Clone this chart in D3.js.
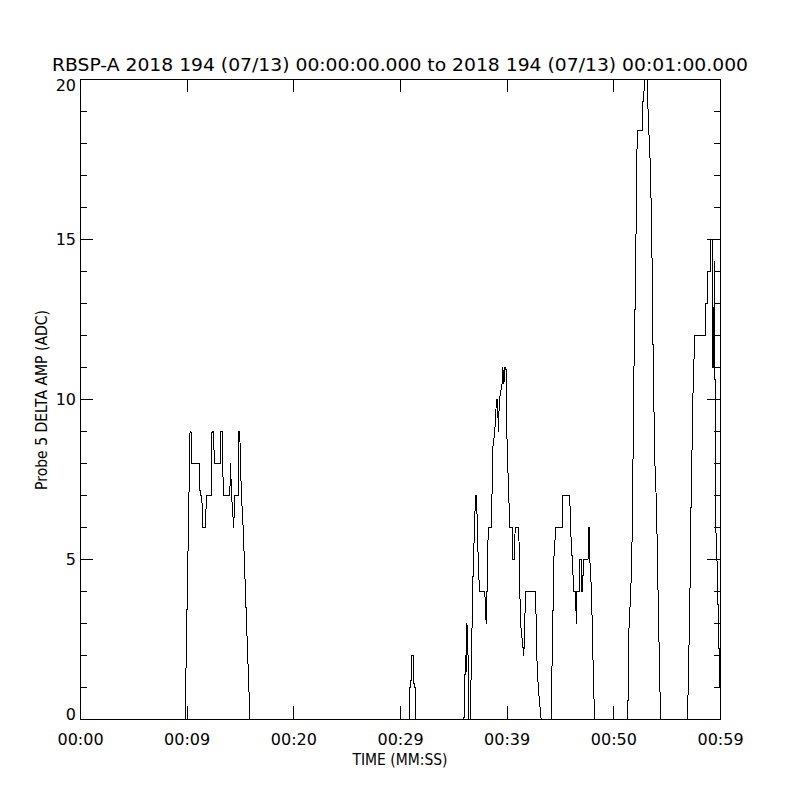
<!DOCTYPE html>
<html>
<head>
<meta charset="utf-8">
<script src="https://cdn.jsdelivr.net/npm/d3@7"></script>
<style>
  body { margin: 0; background: #fff; }
  svg { display: block; }
  text { font-family: "DejaVu Sans", sans-serif; fill: #000; }
</style>
</head>
<body>
<svg id="chart" width="800" height="800"></svg>
<script>
// seconds after 2018-194 00:00:00
const timeSec = [
    0,
    9.81, 10.27, 10.36, 10.43, 11.18, 11.21, 11.37, 11.47, 11.75, 11.78, 12.26, 12.33, 12.50, 12.53, 13.13, 13.15,
    13.28, 13.31, 13.43, 14.00, 14.06, 14.16, 14.37, 14.44, 14.78, 14.84, 14.93, 15.00, 15.09, 15.25, 15.89,
    30.83, 30.87, 30.98, 31.01, 31.24, 31.27, 31.39, 31.42,
    35.95, 36.09, 36.16, 36.23, 36.33, 36.42, 36.54, 36.80, 36.89, 37.03, 37.15, 37.19, 37.34, 37.41, 37.90, 37.97,
    38.03, 38.06, 38.13, 38.18, 38.28, 38.53, 38.65, 38.84, 39.00, 39.12, 39.16, 39.28, 39.53, 39.59, 39.70, 39.78,
    39.89, 39.92, 40.00, 40.15, 40.25, 40.47, 40.53, 40.72, 40.74, 41.09, 41.16, 41.25, 41.41, 41.56, 41.65, 41.72,
    42.66, 42.82, 42.97, 43.19,
    44.11, 44.28, 44.37, 44.56, 45.16, 45.19, 45.87, 45.94, 46.10, 46.25, 46.43, 46.47, 46.53, 46.77, 46.81, 46.94,
    47.00, 47.09, 47.13, 47.58, 47.63, 47.69, 47.75, 47.91, 48.00, 48.19,
    51.31, 51.40, 51.59, 51.70, 51.80, 51.89, 52.05, 52.14, 52.25, 52.66, 52.71, 52.81, 52.85, 53.16, 53.18, 53.28,
    53.44, 53.60, 53.69, 53.84, 54.00, 54.16, 54.38,
    56.91, 57.12, 57.25, 57.35, 57.44, 57.59, 58.57, 58.58, 58.78, 58.80, 59.09, 59.11, 59.25, 59.28, 59.37, 59.41,
    59.44, 59.48, 59.56, 59.67, 59.74, 59.84, 59.95, 60.00
]
// probe 5 delta amp (ADC)
const deltaAmp = [
    0,
    0, 9, 9, 8, 8, 7, 7, 6, 6, 7, 7, 9, 9, 8, 8, 9,
    9, 8, 7, 7, 8, 7, 6, 7, 7, 9, 9, 8, 7, 6, 0,
    0, 1, 1, 2, 2, 1, 1, 0,
    0, 2, 1.5, 3, 2, 0, 0, 4.5, 5.5, 7, 7, 6, 4.5, 4, 4, 3.5,
    3, 4, 4, 5.5, 6, 6, 8.5, 9, 10, 10, 9, 10, 10.5, 11, 10.5, 11,
    11, 10, 8.5, 7, 6, 6, 5, 5, 6, 6, 4.5, 3, 2.5, 2, 3, 4,
    4, 1.5, 0.8, 0,
    0, 3, 5, 6, 6, 7, 7, 6, 5, 4, 4, 3, 4, 4, 5, 5,
    4, 4, 5, 5, 6, 6, 5, 4, 2.5, 0,
    0, 2.7, 4, 5.4, 8.2, 11, 14, 17.6, 18.4, 18.4, 19.3, 19.3, 20, 20, 19.3, 18.4,
    17.2, 14, 11.2, 8.1, 6.7, 3.7, 0,
    0, 3.5, 7, 8.8, 10.5, 12, 12, 13, 13, 14, 14, 15, 15, 11, 11, 14.3,
    14.3, 11, 6, 5, 4, 2.5, 1, 1
]

const xTicks = [0, 10, 20, 30, 40, 50, 60]
const xTickLabels = ["00:00", "00:09", "00:20", "00:29", "00:39", "00:50", "00:59"]
const yTicks = [0, 5, 10, 15, 20]
const yMinorTicks = [1, 2, 3, 4, 6, 7, 8, 9, 11, 12, 13, 14, 16, 17, 18, 19]

const title = "RBSP-A 2018 194 (07/13) 00:00:00.000 to 2018 194 (07/13) 00:01:00.000"
const xTitle = "TIME (MM:SS)"
const yTitle = "Probe 5 DELTA AMP (ADC)"

const data = timeSec.map((t, i) => ({ t: t, v: deltaAmp[i] }))

// plot box
const boxLeft = 80, boxRight = 720, boxTop = 79, boxBottom = 719
const major = 13, minor = 6.5

const svg = d3.select("#chart")
svg.append("rect").attr("width", 800).attr("height", 800).attr("fill", "#fff")

const x = d3.scaleLinear().domain([0, 60]).range([boxLeft, boxRight])
const y = d3.scaleLinear().domain([0, 20]).range([boxBottom, boxTop])

svg.append("clipPath").attr("id", "clip")
    .append("rect")
    .attr("x", boxLeft).attr("y", boxTop)
    .attr("width", boxRight - boxLeft + 1).attr("height", boxBottom - boxTop + 1)

// data line
const line = d3.line()
    .x(d => x(d.t) + 0.5)
    .y(d => y(d.v) + 0.5)

svg.append("path")
    .datum(data)
    .attr("clip-path", "url(#clip)")
    .attr("fill", "none")
    .attr("stroke", "#000")
    .attr("stroke-width", 1)
    .attr("shape-rendering", "crispEdges")
    .attr("d", line)

// axes on all four sides, ticks pointing inward
const styleAxis = g => {
    g.select(".domain").remove()
    g.attr("font-family", "DejaVu Sans").attr("font-size", 16)
    g.selectAll("line").attr("shape-rendering", "crispEdges").attr("stroke", "#000")
    g.selectAll("text").attr("fill", "#000")
}
const noLabel = () => ""

svg.append("g")
    .attr("transform", `translate(0,${boxBottom})`)
    .call(d3.axisBottom(x).tickValues(xTicks).tickFormat((d, i) => xTickLabels[i])
        .tickSizeInner(-major).tickSizeOuter(0).tickPadding(15))
    .call(styleAxis)

svg.append("g")
    .attr("transform", `translate(0,${boxTop})`)
    .call(d3.axisTop(x).tickValues(xTicks).tickFormat(noLabel).tickSizeInner(-major).tickSizeOuter(0))
    .call(styleAxis)

const yLeft = svg.append("g")
    .attr("transform", `translate(${boxLeft},0)`)
    .call(d3.axisLeft(y).tickValues(yTicks).tickFormat(d3.format("d"))
        .tickSizeInner(-major).tickSizeOuter(0).tickPadding(4))
    .call(styleAxis)

// keep the end labels inside the axis range
yLeft.selectAll(".tick text")
    .attr("y", d => d === 0 ? -5 : d === 20 ? 6.5 : 0)

svg.append("g")
    .attr("transform", `translate(${boxLeft},0)`)
    .call(d3.axisLeft(y).tickValues(yMinorTicks).tickFormat(noLabel).tickSizeInner(-minor).tickSizeOuter(0))
    .call(styleAxis)

svg.append("g")
    .attr("transform", `translate(${boxRight},0)`)
    .call(d3.axisRight(y).tickValues(yTicks).tickFormat(noLabel).tickSizeInner(-major).tickSizeOuter(0))
    .call(styleAxis)

svg.append("g")
    .attr("transform", `translate(${boxRight},0)`)
    .call(d3.axisRight(y).tickValues(yMinorTicks).tickFormat(noLabel).tickSizeInner(-minor).tickSizeOuter(0))
    .call(styleAxis)

// frame
svg.append("rect")
    .attr("x", boxLeft + 0.5).attr("y", boxTop + 0.5)
    .attr("width", boxRight - boxLeft).attr("height", boxBottom - boxTop)
    .attr("fill", "none")
    .attr("stroke", "#000")
    .attr("shape-rendering", "crispEdges")

// titles
svg.append("text")
    .attr("x", 400).attr("y", 71)
    .attr("text-anchor", "middle")
    .attr("font-size", 18)
    .attr("textLength", 696)
    .attr("lengthAdjust", "spacingAndGlyphs")
    .text(title)

svg.append("text")
    .attr("x", 400).attr("y", 765)
    .attr("text-anchor", "middle")
    .attr("font-size", 15)
    .attr("textLength", 95)
    .attr("lengthAdjust", "spacingAndGlyphs")
    .text(xTitle)

svg.append("text")
    .attr("transform", "translate(47,400) rotate(-90)")
    .attr("text-anchor", "middle")
    .attr("font-size", 15)
    .attr("textLength", 180)
    .attr("lengthAdjust", "spacingAndGlyphs")
    .text(yTitle)
</script>
</body>
</html>
